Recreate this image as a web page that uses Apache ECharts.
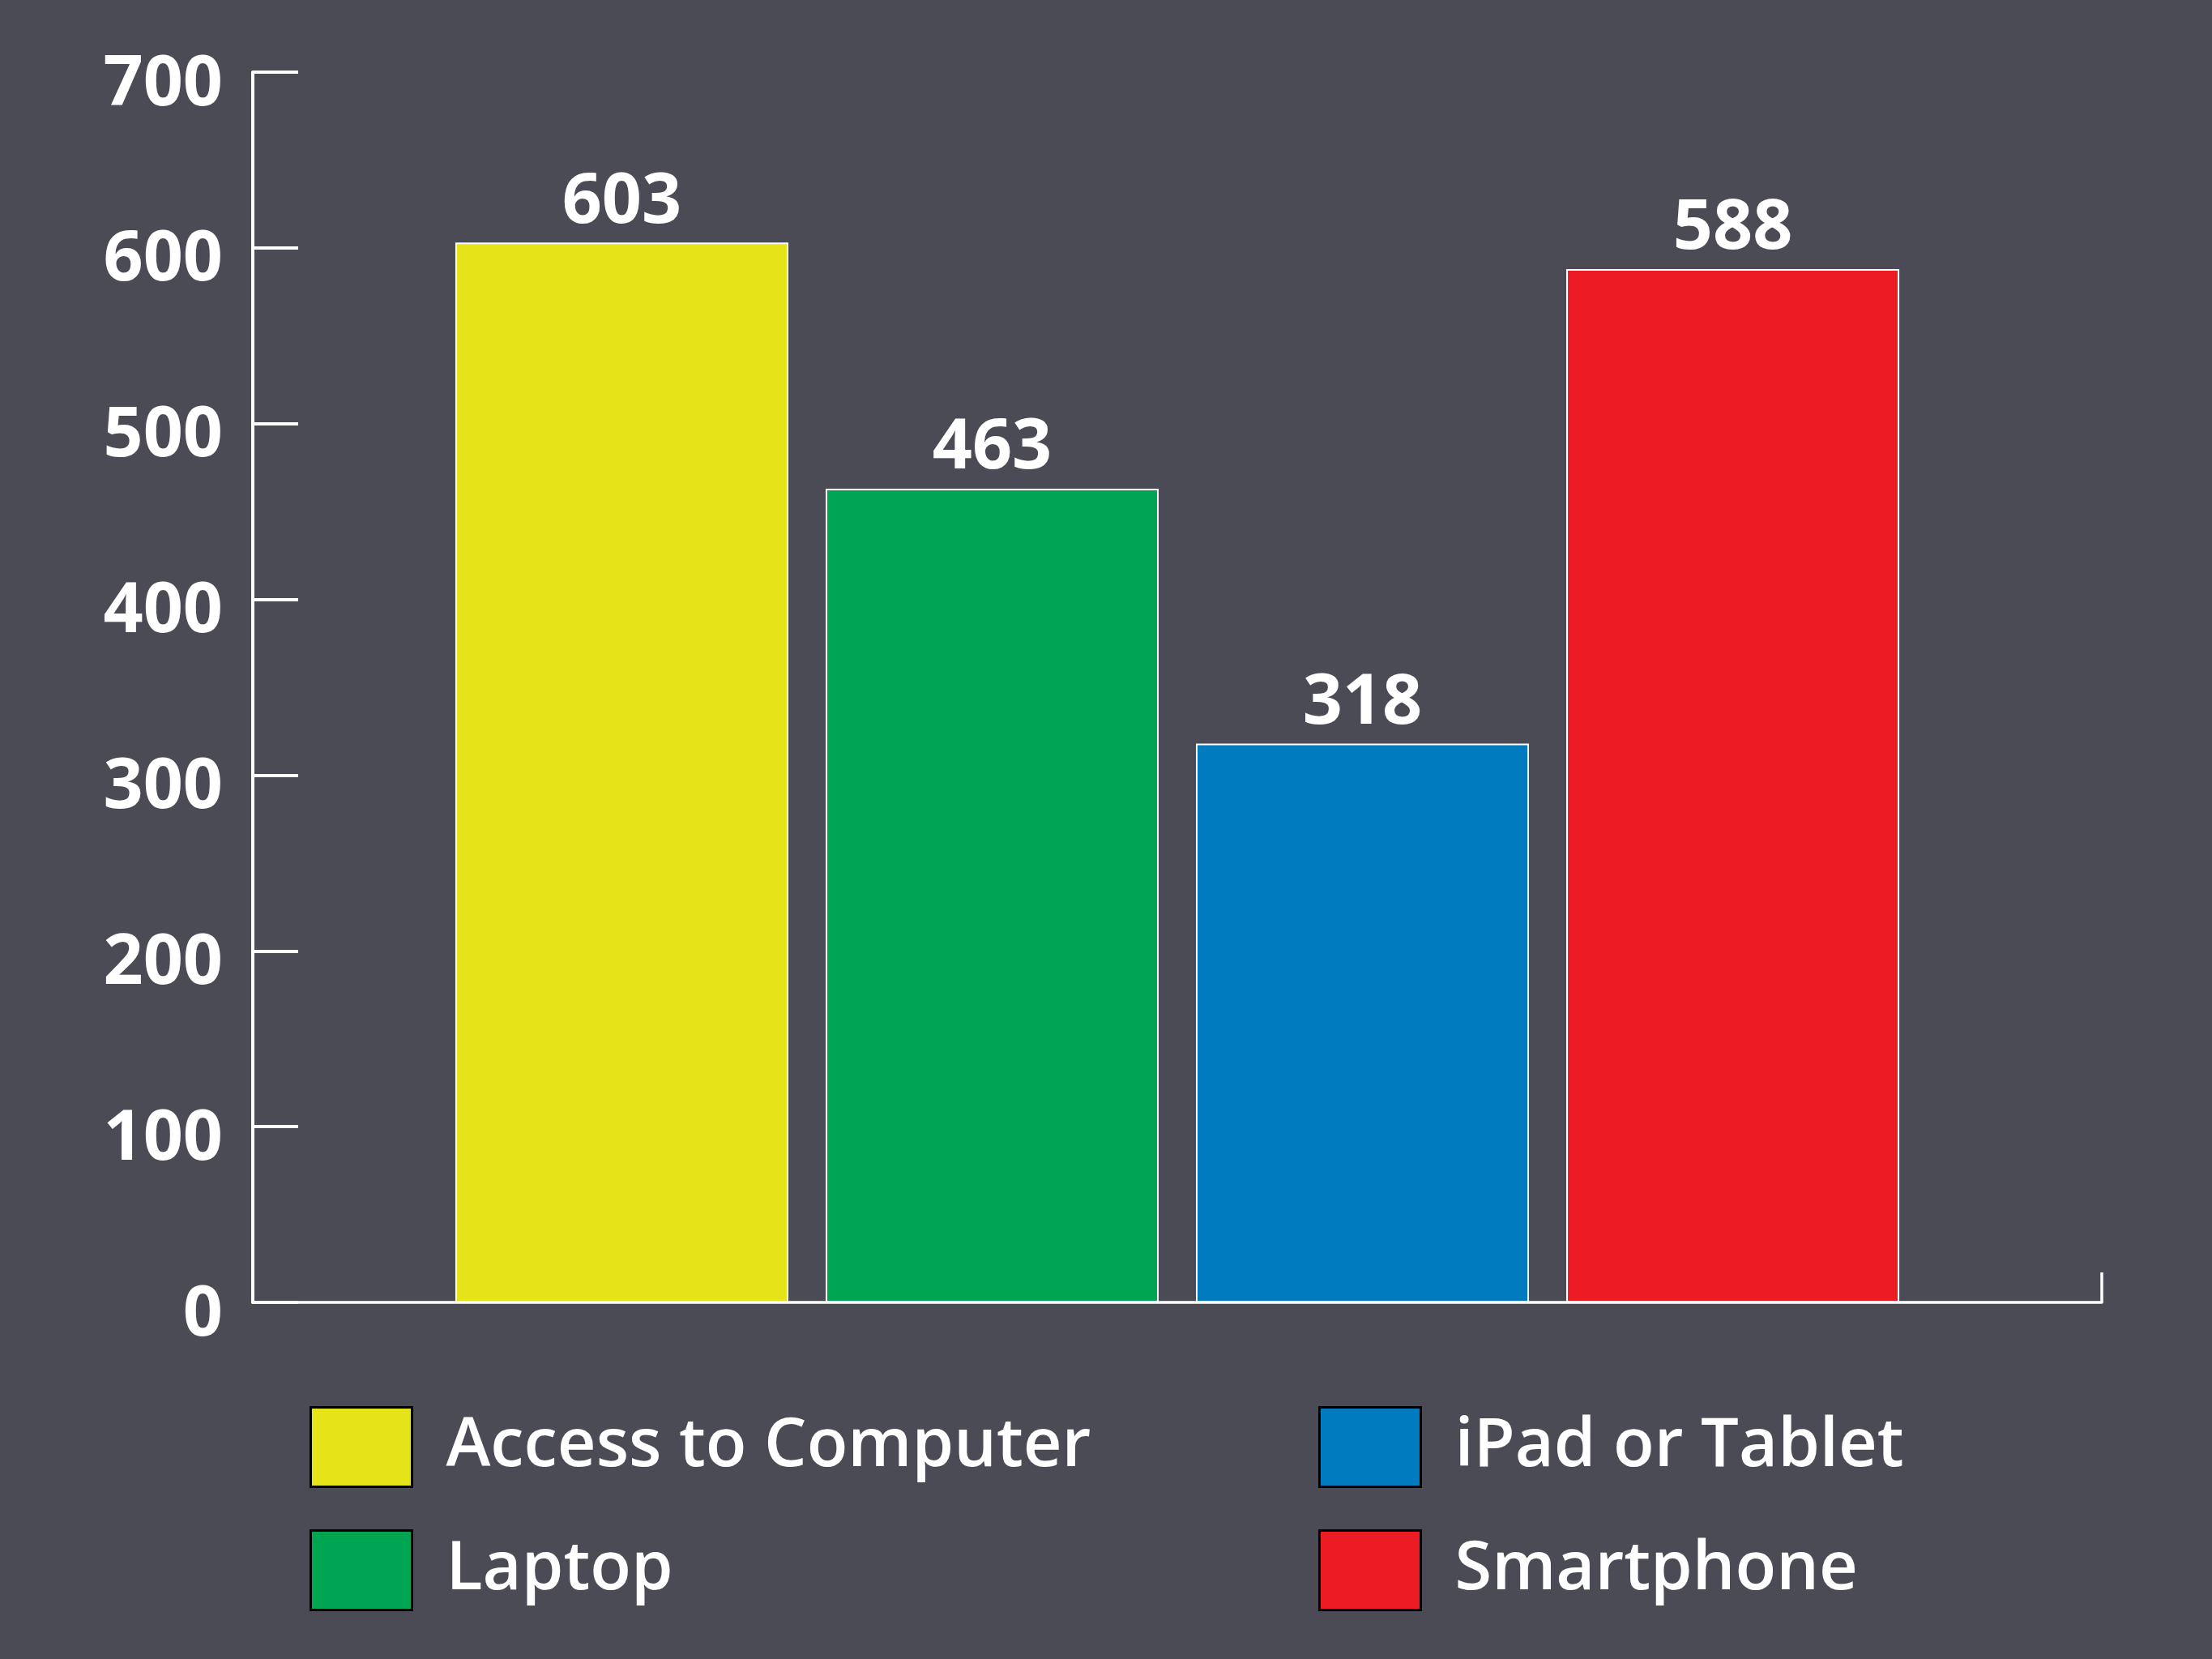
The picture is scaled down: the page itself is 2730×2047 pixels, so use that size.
<!DOCTYPE html>
<html>
<head>
<meta charset="utf-8">
<script src="https://cdn.jsdelivr.net/npm/echarts@6/dist/echarts.min.js"></script>
<style>
html,body{margin:0;padding:0;background:#4b4b56;}
#chart{width:2730px;height:2047px;}
</style>
</head>
<body>
<div id="chart"></div>
<script>
const categories = [''];
const seriesNames = ['Access to Computer', 'Laptop', 'iPad or Tablet', 'Smartphone'];
const seriesValues = [603, 463, 318, 588];
const seriesColors = ['#e4e418', '#00a551', '#007bbf', '#ec1c24'];
const yTicks = [0, 100, 200, 300, 400, 500, 600, 700];

const FONT = '"Open Sans", "Noto Sans", sans-serif';
const chart = echarts.init(document.getElementById('chart'));

const series = seriesNames.map((name, i) => ({
  name: name,
  type: 'bar',
  data: [seriesValues[i]],
  barWidth: 411,
  barGap: '11.2%',
  itemStyle: { color: seriesColors[i], borderColor: '#ffffff', borderWidth: 2 },
  label: {
    show: true, position: 'top', distance: 6,
    color: '#ffffff', fontSize: 86, fontWeight: 700, fontFamily: FONT
  }
}));

const legendBase = {
  orient: 'vertical',
  top: 1730,
  itemWidth: 125,
  itemHeight: 98,
  itemGap: 51,
  icon: 'rect',
  itemStyle: { borderColor: '#000000', borderWidth: 3 },
  textStyle: { color: '#ffffff', fontSize: 83, fontWeight: 600, fontFamily: FONT, lineHeight: 98, padding: [0, 0, 0, 37] },
  selectedMode: false
};

chart.setOption({
  backgroundColor: '#4b4b56',
  animation: false,
  grid: { left: 312, right: 136, top: 89, bottom: 440, containLabel: false },
  legend: [
    Object.assign({}, legendBase, { left: 377, data: [seriesNames[0], seriesNames[1]] }),
    Object.assign({}, legendBase, { left: 1622, data: [seriesNames[2], seriesNames[3]] })
  ],
  xAxis: {
    type: 'category',
    data: categories,
    boundaryGap: true,
    axisLine: { show: true, lineStyle: { color: '#ffffff', width: 3.5 } },
    axisTick: { show: true, inside: true, length: 37, lineStyle: { color: '#ffffff', width: 3.5 } },
    axisLabel: { show: false },
    splitLine: { show: false }
  },
  yAxis: {
    type: 'value',
    min: yTicks[0],
    max: yTicks[yTicks.length - 1],
    interval: 100,
    axisLine: { show: true, lineStyle: { color: '#ffffff', width: 4 } },
    axisTick: { show: true, inside: true, length: 56, lineStyle: { color: '#ffffff', width: 4 } },
    axisLabel: {
      color: '#ffffff', fontSize: 86, fontWeight: 700, fontFamily: FONT,
      margin: 37, verticalAlign: 'top', lineHeight: 32
    },
    splitLine: { show: false }
  },
  series: series
});
</script>
</body>
</html>
